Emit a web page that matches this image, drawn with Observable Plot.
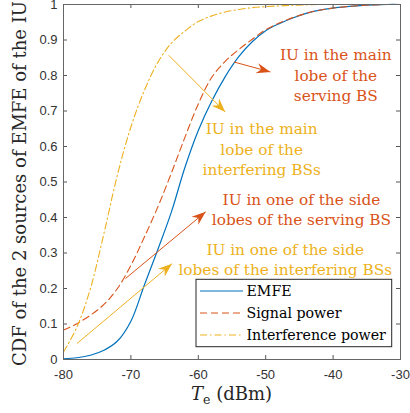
<!DOCTYPE html>
<html>
<head>
<meta charset="utf-8">
<script src="https://cdn.jsdelivr.net/npm/d3@7"></script>
<script src="https://cdn.jsdelivr.net/npm/@observablehq/plot@0.6"></script>
<style>
  html, body { margin: 0; padding: 0; background: #fff; }
  #chart { position: relative; width: 410px; height: 413px; overflow: hidden; }
</style>
</head>
<body>
<div id="chart"></div>
<script>
// ---- data ----
const temps = [-80,-78,-76,-74,-72,-70,-68,-66,-64,-62,-60,-58,-56,-54,-52,-50,-48,-46,-44,-42,-40,-38,-36,-34,-32,-30];
const emfe = [0.002,0.005,0.012,0.026,0.052,0.108,0.21,0.31,0.415,0.54,0.645,0.728,0.797,0.853,0.895,0.926,0.946,0.962,0.975,0.984,0.99,0.994,0.997,0.999,1,1];
const signal = [0.083,0.101,0.125,0.155,0.2,0.265,0.345,0.43,0.525,0.625,0.72,0.795,0.84,0.873,0.902,0.929,0.948,0.963,0.975,0.984,0.99,0.994,0.997,0.999,1,1];
const interference = [0.021,0.092,0.2,0.355,0.52,0.655,0.758,0.837,0.891,0.925,0.952,0.968,0.979,0.986,0.991,0.994,0.996,0.998,0.999,1,1,1,1,1,1,1];

const seriesNames = ["EMFE", "Signal power", "Interference power"];
const seriesColors = ["#0072BD", "#D95319", "#EDB120"];
const seriesDash = [null, "7,4", "7,3,1.5,3"];

const xTicks = [-80,-70,-60,-50,-40,-30];
const yTicks = [0,0.1,0.2,0.3,0.4,0.5,0.6,0.7,0.8,0.9,1];
const xTickLabels = ["-80","-70","-60","-50","-40","-30"];
const yTickLabels = ["0","0.1","0.2","0.3","0.4","0.5","0.6","0.7","0.8","0.9","1"];

// annotations
const annText = [
  "IU in the main\nlobe of the\nserving BS",
  "IU in the main\nlobe of the\ninterfering BSs",
  "IU in one of the side\nlobes of the serving BS",
  "IU in one of the side\nlobes of the interfering BSs"
];
const annX = [-39.6, -50.6, -44.7, -47.1];
const annY = [0.804, 0.595, 0.426, 0.285];
const annColor = ["#D95319", "#EDB120", "#D95319", "#EDB120"];

// arrows (start -> tip)
const arrX1 = [-54.7, -64.4, -70.8, -78.0];
const arrY1 = [0.838, 0.857, 0.228, 0.045];
const arrX2 = [-49.3, -56.0, -58.9, -63.9];
const arrY2 = [0.81, 0.697, 0.416, 0.27];
const arrColor = ["#D95319", "#EDB120", "#D95319", "#EDB120"];

// ---- layout ----
const W = 410, H = 413;
const mL = 63, mR = 10, mT = 4, mB = 54;
const fw = W - mL - mR, fh = H - mT - mB;
const xDomain = [-80, -30], yDomain = [0, 1];
const kx = fw / (xDomain[1] - xDomain[0]);
const ky = fh / (yDomain[1] - yDomain[0]);

const table = [];
[emfe, signal, interference].forEach((arr, s) => {
  temps.forEach((t, i) => table.push({t, v: arr[i], s}));
});

const arrIdx = arrX1.map((_, i) => i);
const annIdx = annText.map((_, i) => i);

const arrowHead = {
  draw(ctx) {
    const L = 14, w = 5.2;
    ctx.moveTo(0, 0);
    ctx.lineTo(-w, L);
    ctx.lineTo(0, L * 0.68);
    ctx.lineTo(w, L);
    ctx.closePath();
  }
};

const tickColor = "#555";

const plot = Plot.plot({
  width: W, height: H,
  marginLeft: mL, marginRight: mR, marginTop: mT, marginBottom: mB,
  x: {domain: xDomain, ticks: xTicks, label: null},
  y: {domain: yDomain, ticks: yTicks, label: null},
  color: {type: "identity"},
  style: {background: "#fff", overflow: "visible"},
  marks: [
    ...[0,1,2].map(s => Plot.line(table.filter(d => d.s === s), {
      x: "t", y: "v",
      stroke: seriesColors[s],
      strokeWidth: s === 0 ? 1.2 : 1.1,
      strokeDasharray: seriesDash[s],
      curve: "catmull-rom"
    })),
    Plot.link(arrIdx, {
      x1: i => arrX1[i], y1: i => arrY1[i],
      x2: i => arrX2[i], y2: i => arrY2[i],
      stroke: i => arrColor[i], strokeWidth: 1
    }),
    Plot.dot(arrIdx, {
      x: i => arrX2[i], y: i => arrY2[i],
      fill: i => arrColor[i], stroke: "none",
      symbol: arrowHead, r: 5,
      rotate: i => Math.atan2((arrX2[i] - arrX1[i]) * kx, (arrY2[i] - arrY1[i]) * ky) * 180 / Math.PI
    }),
    Plot.text(annIdx, {
      x: i => annX[i], y: i => annY[i], text: i => annText[i],
      fill: i => annColor[i],
      fontFamily: "DejaVu Serif", fontSize: 15.3, lineHeight: 1.33,
      textAnchor: "middle", lineAnchor: "middle"
    }),
    // inward ticks
    Plot.ruleX(xTicks, {stroke: tickColor, insetTop: fh - 4}),
    Plot.ruleX(xTicks, {stroke: tickColor, insetBottom: fh - 4}),
    Plot.ruleY(yTicks, {stroke: tickColor, insetRight: fw - 4}),
    Plot.ruleY(yTicks, {stroke: tickColor, insetLeft: fw - 4}),
    Plot.frame({stroke: "#666", strokeWidth: 1}),
    Plot.axisX({
      ticks: xTicks, tickSize: 0, tickPadding: 10,
      tickFormat: (d) => xTickLabels[xTicks.indexOf(d)],
      fontSize: 13, fontFamily: "Liberation Sans", fill: "#333", label: null
    }),
    Plot.axisY({
      ticks: yTicks, tickSize: 0, tickPadding: 6,
      tickFormat: (d) => yTickLabels[yTicks.indexOf(d)],
      fontSize: 13, fontFamily: "Liberation Sans", fill: "#333", label: null
    })
  ]
});

document.getElementById("chart").appendChild(plot);

const svg = d3.select(plot);

// y-axis label
svg.append("text")
  .attr("transform", `translate(25.5,${mT + fh / 2 + 2}) rotate(-90)`)
  .attr("text-anchor", "middle")
  .attr("font-family", "DejaVu Serif")
  .attr("font-size", 18)
  .attr("fill", "#262626")
  .text("CDF of the 2 sources of EMFE of the IU");

// x-axis label
const xl = svg.append("text")
  .attr("x", mL + fw / 2).attr("y", 400)
  .attr("text-anchor", "middle")
  .attr("font-family", "DejaVu Serif")
  .attr("font-size", 18)
  .attr("fill", "#262626");
xl.append("tspan").attr("font-style", "italic").text("T");
xl.append("tspan").attr("font-size", 12.5).attr("dy", 4).text("e");
xl.append("tspan").attr("dy", -4).text(" (dBm)");

// legend
const lg = svg.append("g");
lg.append("rect")
  .attr("x", 196).attr("y", 279.3).attr("width", 195.7).attr("height", 67.4)
  .attr("fill", "#fff").attr("stroke", "#262626").attr("stroke-width", 1);
seriesNames.forEach((name, i) => {
  const cy = 291 + i * 22;
  lg.append("line")
    .attr("x1", 200).attr("x2", 243).attr("y1", cy).attr("y2", cy)
    .attr("stroke", seriesColors[i]).attr("stroke-width", 1.1)
    .attr("stroke-dasharray", seriesDash[i] || null);
  lg.append("text")
    .attr("x", 246.5).attr("y", cy + 5.3)
    .attr("text-anchor", "start")
    .attr("font-family", "DejaVu Serif").attr("font-size", 14.2)
    .attr("fill", "#000")
    .text(name);
});
</script>
</body>
</html>
